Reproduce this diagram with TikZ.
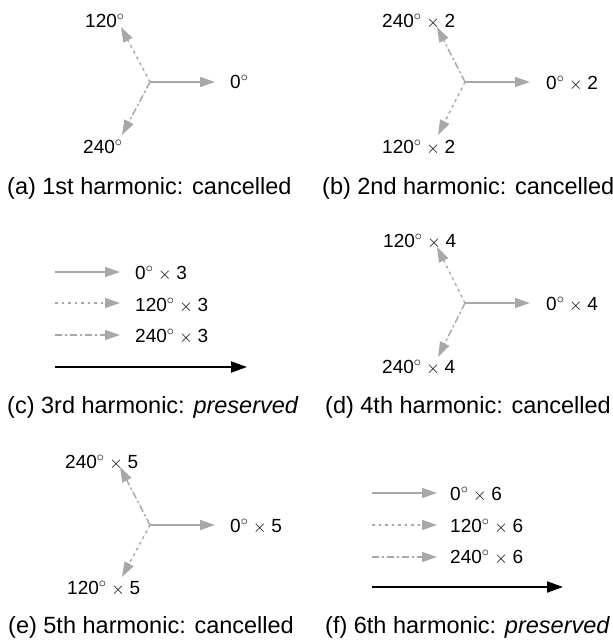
\documentclass[tikz,border=0pt]{standalone}
\usepackage{fontspec}
\setmainfont{Liberation Sans}
\usetikzlibrary{arrows.meta}
\definecolor{vgray}{gray}{0.66}
\tikzset{
  vec/.style={draw=vgray, line width=1.5pt, -{Triangle[length=15pt,width=10pt]}, fill=vgray},
  solidvec/.style={vec},
  dotvec/.style={vec, dash pattern=on 2.5pt off 4pt},
  dashdotvec/.style={vec, dash pattern=on 7pt off 3pt on 2pt off 3pt},
  sumvec/.style={draw=black, line width=2pt, -{Triangle[length=16pt,width=11pt]}},
  lbl/.style={inner sep=0pt, anchor=base west, font=\fontsize{19}{22}\selectfont},
  captxt/.style={inner sep=0pt, anchor=base west, font=\fontsize{23.5}{26}\selectfont},
}
\newcommand{\dg}{$^\circ$}
\newcommand{\tms}{\hspace{0.25em}$\times$\hspace{0.25em}}
\begin{document}
\begin{tikzpicture}[x=1pt,y=-1pt]
\useasboundingbox (0,0) rectangle (613,641);
% (a)
\coordinate (ca) at (150,82);
\coordinate (ta0) at (215,82);
\coordinate (ta1) at (121,27);
\coordinate (ta2) at (122,135);
\draw[solidvec] (ca) -- (ta0);
\draw[dotvec] (ca) -- (ta1);
\draw[dashdotvec] (ca) -- (ta2);
\node[lbl] (la0) at (230,88) {0\dg};
\node[lbl] (la1) at (85,27) {120\dg};
\node[lbl] (la2) at (83,153) {240\dg};
\node[captxt] (capa) at (7,194) {(a) 1st harmonic: cancelled};
% (b)
\coordinate (cb) at (465,82);
\coordinate (tb0) at (530,82);
\coordinate (tb1) at (437,27);
\coordinate (tb2) at (438,135);
\draw[solidvec] (cb) -- (tb0);
\draw[dashdotvec] (cb) -- (tb1);
\draw[dotvec] (cb) -- (tb2);
\node[lbl] (lb0) at (546,89) {0\dg\tms2};
\node[lbl] (lb1) at (382,27) {240\dg\tms2};
\node[lbl] (lb2) at (382,153) {120\dg\tms2};
\node[captxt] (capb) at (322,194) {(b) 2nd harmonic: cancelled};
% (c)
\coordinate (sc0) at (55,272);
\coordinate (ec0) at (120,272);
\coordinate (sc1) at (55,303);
\coordinate (ec1) at (120,303);
\coordinate (sc2) at (55,335);
\coordinate (ec2) at (120,335);
\coordinate (sc3) at (55,367);
\coordinate (ec3) at (247,367);
\draw[solidvec] (sc0) -- (ec0);
\draw[dotvec] (sc1) -- (ec1);
\draw[dashdotvec] (sc2) -- (ec2);
\draw[sumvec] (sc3) -- (ec3);
\node[lbl] (lc0) at (135,279) {0\dg\tms3};
\node[lbl] (lc1) at (135,311) {120\dg\tms3};
\node[lbl] (lc2) at (135,342) {240\dg\tms3};
\node[captxt] (capc) at (7,413) {(c) 3rd harmonic: \textit{preserved}};
% (d)
\coordinate (cd) at (465,303);
\coordinate (td0) at (530,303);
\coordinate (td1) at (437,247);
\coordinate (td2) at (438,357);
\draw[solidvec] (cd) -- (td0);
\draw[dotvec] (cd) -- (td1);
\draw[dashdotvec] (cd) -- (td2);
\node[lbl] (ld0) at (546,310) {0\dg\tms4};
\node[lbl] (ld1) at (383,247) {120\dg\tms4};
\node[lbl] (ld2) at (382,373) {240\dg\tms4};
\node[captxt] (capd) at (325,413) {(d) 4th harmonic: cancelled};
% (e)
\coordinate (ce) at (150,525);
\coordinate (te0) at (215,525);
\coordinate (te1) at (120,467);
\coordinate (te2) at (122,577);
\draw[solidvec] (ce) -- (te0);
\draw[dashdotvec] (ce) -- (te1);
\draw[dotvec] (ce) -- (te2);
\node[lbl] (le0) at (230,532) {0\dg\tms5};
\node[lbl] (le1) at (65,468) {240\dg\tms5};
\node[lbl] (le2) at (67,594) {120\dg\tms5};
\node[captxt] (cape) at (8,633) {(e) 5th harmonic: cancelled};
% (f)
\coordinate (sf0) at (372,493);
\coordinate (ef0) at (437,493);
\coordinate (sf1) at (372,525);
\coordinate (ef1) at (437,525);
\coordinate (sf2) at (372,557);
\coordinate (ef2) at (437,557);
\coordinate (sf3) at (372,587);
\coordinate (ef3) at (563,587);
\draw[solidvec] (sf0) -- (ef0);
\draw[dotvec] (sf1) -- (ef1);
\draw[dashdotvec] (sf2) -- (ef2);
\draw[sumvec] (sf3) -- (ef3);
\node[lbl] (lf0) at (450,500) {0\dg\tms6};
\node[lbl] (lf1) at (450,532) {120\dg\tms6};
\node[lbl] (lf2) at (450,563) {240\dg\tms6};
\node[captxt] (capf) at (325,633) {(f) 6th harmonic: \textit{preserved}};
\end{tikzpicture}
\end{document}
